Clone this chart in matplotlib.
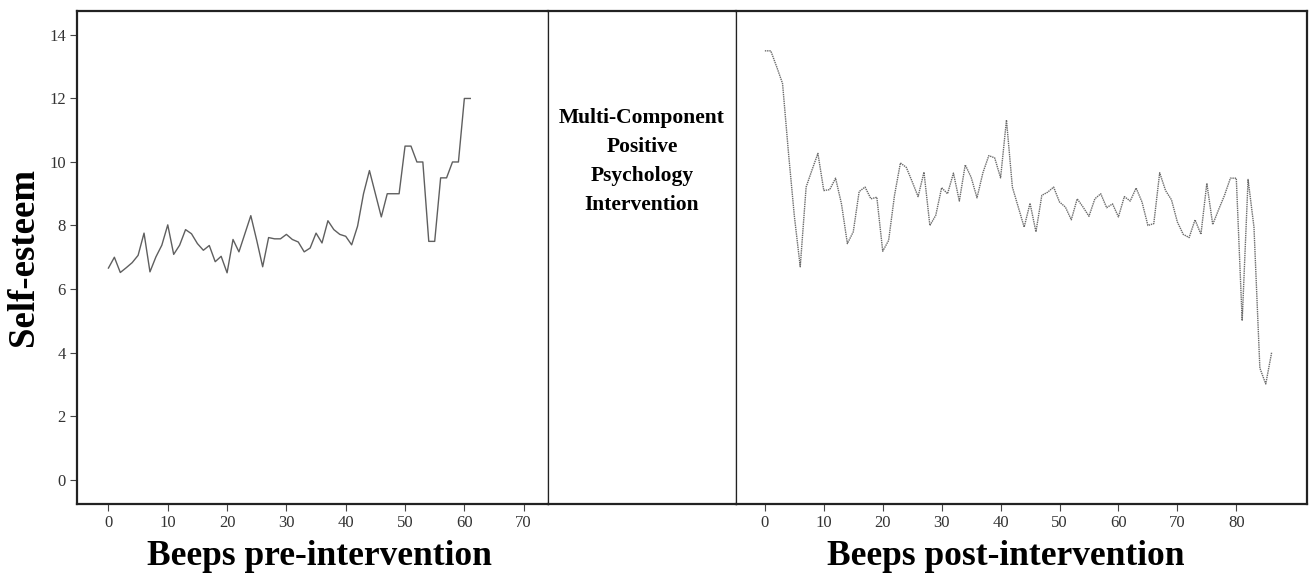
import matplotlib
matplotlib.use("Agg")
import matplotlib.pyplot as plt
import numpy as np

# Self-esteem per beep, pre- and post-intervention
pre_values = [6.66, 7.0, 6.52, 6.67, 6.83, 7.06, 7.76, 6.54, 7.01, 7.38,
              8.02, 7.09, 7.38, 7.87, 7.74, 7.43, 7.22, 7.37, 6.86, 7.03,
              6.51, 7.56, 7.17, 7.74, 8.31, 7.53, 6.70, 7.62, 7.58, 7.58,
              7.72, 7.56, 7.48, 7.17, 7.29, 7.76, 7.45, 8.15, 7.87, 7.72,
              7.66, 7.39, 7.98, 9.0, 9.73, 9.0, 8.27, 9.0, 9.0, 9.0,
              10.5, 10.5, 10.0, 10.0, 7.5, 7.5, 9.5, 9.5, 10.0, 10.0,
              12.0, 12.0]
post_values = [13.5, 13.5, 13.0, 12.47, 10.3, 8.3, 6.70, 9.21, 9.75, 10.27,
               9.10, 9.13, 9.49, 8.68, 7.43, 7.80, 9.07, 9.21, 8.84, 8.89,
               7.19, 7.53, 8.95, 9.97, 9.83, 9.38, 8.91, 9.68, 8.00, 8.32,
               9.19, 9.0, 9.65, 8.77, 9.91, 9.52, 8.87, 9.66, 10.20, 10.13,
               9.50, 11.32, 9.21, 8.58, 7.95, 8.70, 7.80, 8.95, 9.05, 9.21,
               8.74, 8.58, 8.18, 8.84, 8.58, 8.29, 8.84, 9.0, 8.56, 8.68,
               8.27, 8.91, 8.77, 9.18, 8.74, 8.0, 8.06, 9.66, 9.10, 8.81,
               8.11, 7.72, 7.62, 8.18, 7.72, 9.33, 8.03, 8.5, 8.95, 9.49,
               9.49, 5.0, 9.45, 7.95, 3.51, 3.01, 4.0]
pre_x = np.arange(len(pre_values))
post_x = np.arange(len(post_values))

pre_ticks = [0, 10, 20, 30, 40, 50, 60, 70]
post_ticks = [0, 10, 20, 30, 40, 50, 60, 70, 80]
y_ticks = [0, 2, 4, 6, 8, 10, 12, 14]

plt.rcParams['font.family'] = ['Liberation Serif', 'DejaVu Serif']

W, H = 1310, 581
fig = plt.figure(figsize=(W / 100, H / 100), dpi=100)

def box(x0, x1, y0=10.5, y1=504):
    return [x0 / W, 1 - y1 / H, (x1 - x0) / W, (y1 - y0) / H]

ax1 = fig.add_axes(box(77, 548))
ax2 = fig.add_axes(box(548, 736))
ax3 = fig.add_axes(box(736, 1307))

ylim = (-0.77, 14.77)

# lewy panel
ax1.plot(pre_x, pre_values, color='#5f5f5f', lw=1.0)
ax1.set_xlim(-5.3, 74.1)
ax1.set_ylim(*ylim)
ax1.set_xticks(pre_ticks)
ax1.set_yticks(y_ticks)
ax1.set_ylabel("Self-esteem", fontsize=26.5, fontweight='bold', labelpad=6)
ax1.set_xlabel("Beeps pre-intervention", fontsize=25.5, fontweight='bold', labelpad=5)
ax1.xaxis.set_label_coords(0.515, -0.072)

# środkowy panel z opisem interwencji
ax2.set_xlim(0, 1)
ax2.set_ylim(0, 1)
ax2.set_xticks([])
ax2.set_yticks([])
ax2.text(0.5, 0.695, "Multi-Component\nPositive\nPsychology\nIntervention",
         ha='center', va='center', fontsize=15.5, fontweight='bold',
         linespacing=1.6)

# prawy panel
ax3.plot(post_x, post_values, color='#6a6a6a', lw=1.0, linestyle=(0, (1, 0.6)))
ax3.set_xlim(-4.9, 92.0)
ax3.set_ylim(*ylim)
ax3.set_xticks(post_ticks)
ax3.set_yticks([])
ax3.set_xlabel("Beeps post-intervention", fontsize=25.5, fontweight='bold', labelpad=5)
ax3.xaxis.set_label_coords(0.473, -0.072)

for ax in (ax1, ax2, ax3):
    for s in ax.spines.values():
        s.set_linewidth(1.6)
        s.set_color('#222222')
    ax.tick_params(axis='both', labelsize=12, length=5, width=0.8,
                   color='#444444', labelcolor='#333333', pad=3)

ax1.spines['right'].set_linewidth(0.9)
ax2.spines['left'].set_linewidth(0.9)
ax2.spines['right'].set_linewidth(0.9)
ax3.spines['left'].set_linewidth(0.9)

fig.savefig("out.png", dpi=100)
